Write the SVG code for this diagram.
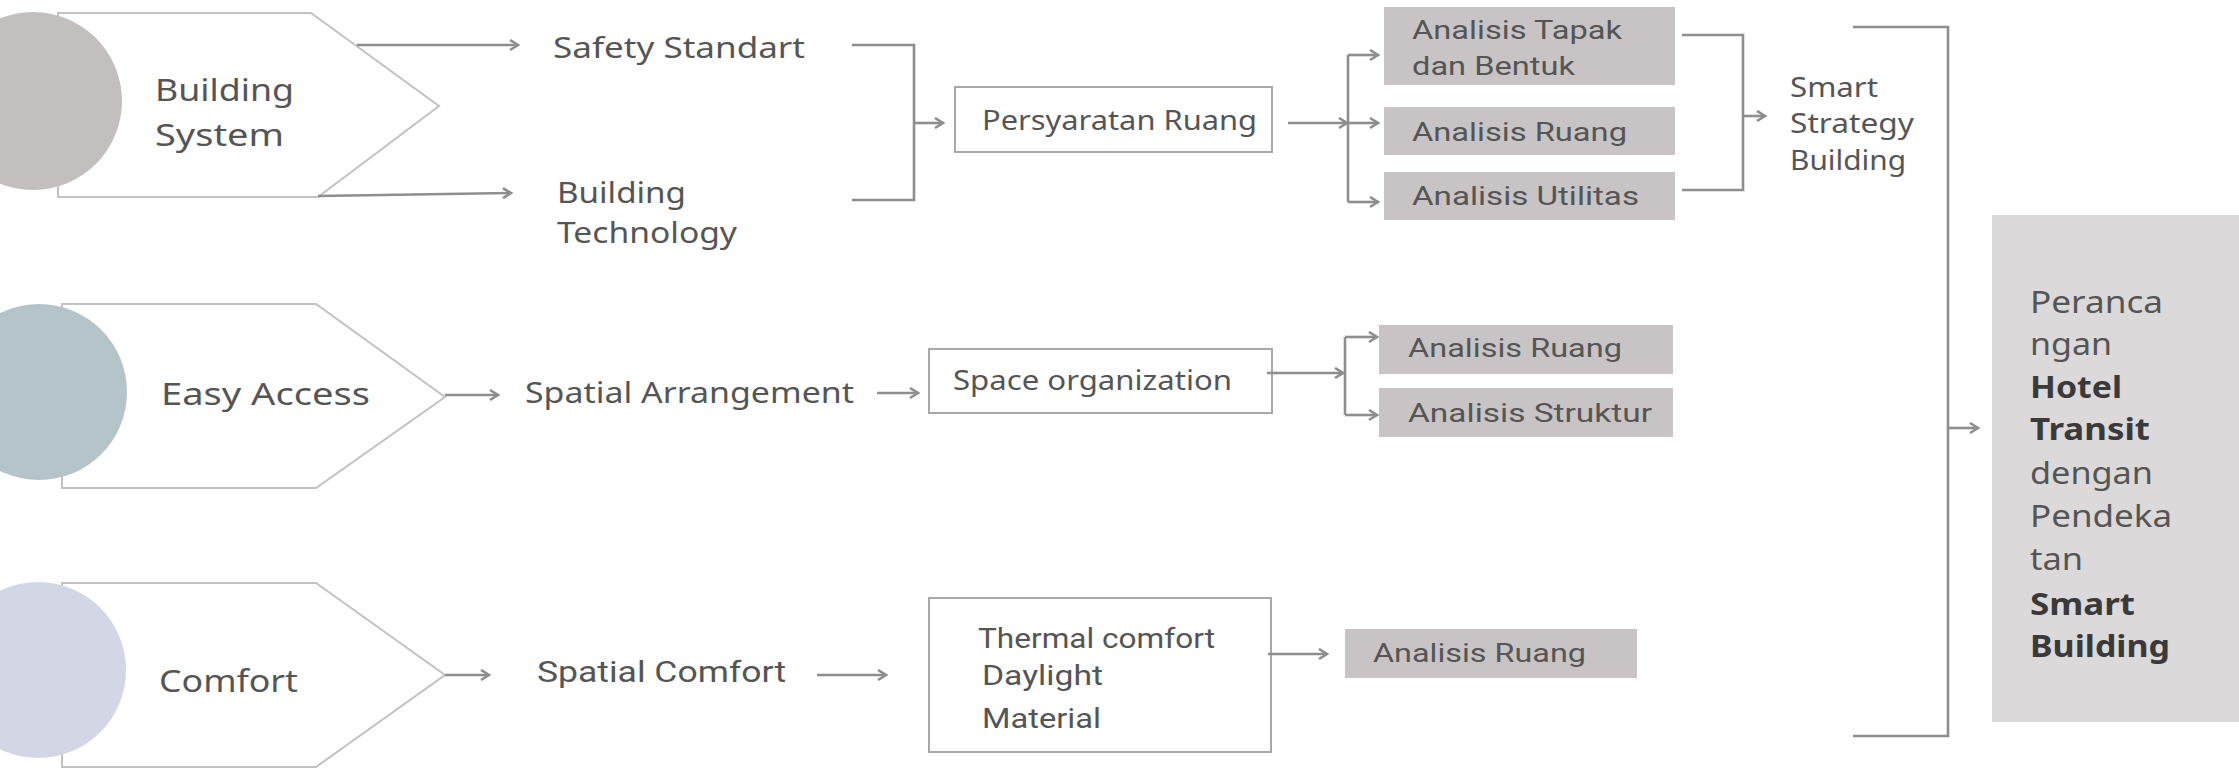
<svg xmlns="http://www.w3.org/2000/svg" width="2239" height="769" viewBox="0 0 2239 769">
<defs>
<marker id="ah" markerUnits="userSpaceOnUse" markerWidth="14" markerHeight="14" refX="11" refY="6" orient="auto">
<path d="M3,1 L11,6 L3,11" fill="none" stroke="#8e8e8e" stroke-width="2.6"/>
</marker>
<style>
.pent{fill:#ffffff;stroke:#c2c2c2;stroke-width:2}
.t{font-family:"Noto Sans","Liberation Sans",sans-serif;fill:#555555}
.c{font-family:"Roboto","Liberation Sans",sans-serif;fill:#555555}
.b{font-family:"Noto Sans","Liberation Sans",sans-serif;fill:#3a3a3a;font-weight:bold}
.box{fill:#ffffff;stroke:#a8a8a8;stroke-width:2}
.gbox{fill:#c8c4c5}
.big{fill:#dcd9da}
.ln{fill:none;stroke:#8e8e8e;stroke-width:2.6}
.ar{fill:none;stroke:#8e8e8e;stroke-width:2.6;marker-end:url(#ah)}
</style>
</defs>
<g id="building-system">
<polygon class="pent" points="58,13 311,13 439,106 318,197 58,197"/>
<circle cx="33" cy="101" r="89" fill="#c4bfbf"/>
<text class="t" font-size="30" x="155" y="101" textLength="139" lengthAdjust="spacingAndGlyphs">Building</text>
<text class="t" font-size="30" x="155" y="146" textLength="129" lengthAdjust="spacingAndGlyphs">System</text>
</g>
<g id="easy-access">
<polygon class="pent" points="62,304 316,304 445,397 316,488 62,488"/>
<circle cx="39" cy="392" r="88" fill="#b5c4c9"/>
<text class="t" font-size="30" x="161" y="405" textLength="209" lengthAdjust="spacingAndGlyphs">Easy Access</text>
</g>
<g id="comfort">
<polygon class="pent" points="62,583 316,583 445,675 316,767 62,767"/>
<circle cx="38" cy="670" r="88" fill="#d3d6e4"/>
<text class="t" font-size="30" x="159" y="692" textLength="139" lengthAdjust="spacingAndGlyphs">Comfort</text>
</g>
<g id="safety-standart">
<text class="t" font-size="29" x="553" y="58" textLength="252" lengthAdjust="spacingAndGlyphs">Safety Standart</text>
</g>
<g id="building-technology">
<text class="t" font-size="29" x="557" y="203" textLength="129" lengthAdjust="spacingAndGlyphs">Building</text>
<text class="t" font-size="29" x="557" y="243" textLength="180" lengthAdjust="spacingAndGlyphs">Technology</text>
</g>
<g id="persyaratan-ruang">
<rect class="box" x="955" y="87" width="317" height="65"/>
<text class="t" font-size="27" x="982" y="130" textLength="275" lengthAdjust="spacingAndGlyphs">Persyaratan Ruang</text>
</g>
<g id="analisis-tapak">
<rect class="gbox" x="1384" y="7" width="291" height="78"/>
<text class="c" font-size="25" x="1412" y="39" textLength="210" lengthAdjust="spacingAndGlyphs">Analisis Tapak</text>
<text class="c" font-size="25" x="1412" y="75" textLength="163" lengthAdjust="spacingAndGlyphs">dan Bentuk</text>
</g>
<g id="analisis-ruang-1">
<rect class="gbox" x="1384" y="107" width="291" height="48"/>
<text class="c" font-size="25" x="1412" y="141" textLength="215" lengthAdjust="spacingAndGlyphs">Analisis Ruang</text>
</g>
<g id="analisis-utilitas">
<rect class="gbox" x="1384" y="172" width="291" height="48"/>
<text class="c" font-size="25" x="1412" y="205" textLength="227" lengthAdjust="spacingAndGlyphs">Analisis Utilitas</text>
</g>
<g id="smart-strategy-building">
<text class="t" font-size="27" x="1790" y="97" textLength="88" lengthAdjust="spacingAndGlyphs">Smart</text>
<text class="t" font-size="27" x="1790" y="133" textLength="124" lengthAdjust="spacingAndGlyphs">Strategy</text>
<text class="t" font-size="27" x="1790" y="170" textLength="116" lengthAdjust="spacingAndGlyphs">Building</text>
</g>
<g id="spatial-arrangement">
<text class="t" font-size="29" x="525" y="403" textLength="329" lengthAdjust="spacingAndGlyphs">Spatial Arrangement</text>
</g>
<g id="space-organization">
<rect class="box" x="929" y="349" width="343" height="64"/>
<text class="t" font-size="27" x="953" y="390" textLength="279" lengthAdjust="spacingAndGlyphs">Space organization</text>
</g>
<g id="analisis-ruang-2">
<rect class="gbox" x="1379" y="325" width="294" height="49"/>
<text class="c" font-size="25" x="1408" y="357" textLength="214" lengthAdjust="spacingAndGlyphs">Analisis Ruang</text>
</g>
<g id="analisis-struktur">
<rect class="gbox" x="1379" y="388" width="294" height="49"/>
<text class="c" font-size="25" x="1408" y="422" textLength="244" lengthAdjust="spacingAndGlyphs">Analisis Struktur</text>
</g>
<g id="spatial-comfort">
<text class="c" font-size="29" x="537" y="682" textLength="249" lengthAdjust="spacingAndGlyphs">Spatial Comfort</text>
</g>
<g id="thermal-daylight-material">
<rect class="box" x="929" y="598" width="342" height="154"/>
<text class="c" font-size="27" x="978" y="648" textLength="237" lengthAdjust="spacingAndGlyphs">Thermal comfort</text>
<text class="c" font-size="27" x="982" y="685" textLength="121" lengthAdjust="spacingAndGlyphs">Daylight</text>
<text class="c" font-size="27" x="982" y="728" textLength="119" lengthAdjust="spacingAndGlyphs">Material</text>
</g>
<g id="analisis-ruang-3">
<rect class="gbox" x="1345" y="629" width="292" height="49"/>
<text class="c" font-size="25" x="1373" y="662" textLength="213" lengthAdjust="spacingAndGlyphs">Analisis Ruang</text>
</g>
<g id="perancangan">
<rect class="big" x="1992" y="215" width="247" height="507"/>
<text class="t" font-size="31" x="2030" y="313" textLength="133" lengthAdjust="spacingAndGlyphs">Peranca</text>
<text class="t" font-size="31" x="2030" y="355" textLength="82" lengthAdjust="spacingAndGlyphs">ngan</text>
<text class="b" font-size="31" x="2030" y="398" textLength="92" lengthAdjust="spacingAndGlyphs">Hotel</text>
<text class="b" font-size="31" x="2030" y="440" textLength="120" lengthAdjust="spacingAndGlyphs">Transit</text>
<text class="t" font-size="31" x="2030" y="484" textLength="123" lengthAdjust="spacingAndGlyphs">dengan</text>
<text class="t" font-size="31" x="2030" y="527" textLength="142" lengthAdjust="spacingAndGlyphs">Pendeka</text>
<text class="t" font-size="31" x="2030" y="570" textLength="53" lengthAdjust="spacingAndGlyphs">tan</text>
<text class="b" font-size="31" x="2030" y="615" textLength="105" lengthAdjust="spacingAndGlyphs">Smart</text>
<text class="b" font-size="31" x="2030" y="657" textLength="140" lengthAdjust="spacingAndGlyphs">Building</text>
</g>
<g id="connectors">
<path class="ar" d="M357,45 H518"/>
<path class="ar" d="M318,196 L511,193"/>
<path class="ln" d="M852,45 H914 V200 H852"/>
<path class="ar" d="M914,123 H943"/>
<path class="ar" d="M1288,123 H1347"/>
<path class="ln" d="M1348,55 V202"/>
<path class="ar" d="M1348,55 H1378"/>
<path class="ar" d="M1348,123 H1378"/>
<path class="ar" d="M1348,202 H1378"/>
<path class="ln" d="M1682,35 H1743 V190 H1682"/>
<path class="ar" d="M1743,116 H1765"/>
<path class="ln" d="M1853,27 H1948 V736 H1853"/>
<path class="ar" d="M1948,428 H1978"/>
<path class="ar" d="M445,395 H498"/>
<path class="ar" d="M877,393 H918"/>
<path class="ar" d="M1267,373 H1343"/>
<path class="ln" d="M1345,337 V415"/>
<path class="ar" d="M1345,337 H1377"/>
<path class="ar" d="M1345,415 H1377"/>
<path class="ar" d="M445,675 H489"/>
<path class="ar" d="M817,675 H886"/>
<path class="ar" d="M1268,654 H1327"/>
</g>
</svg>
